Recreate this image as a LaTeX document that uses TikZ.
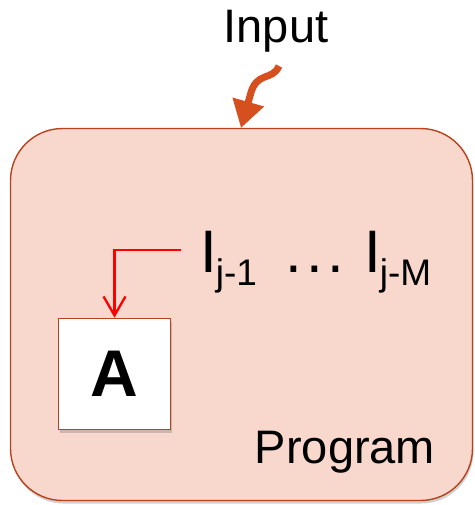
\documentclass[tikz,border=0pt]{standalone}
\usepackage{fontspec}
\setmainfont{Liberation Sans}
\usepackage{tikz}
\usepackage{xcolor}
\usetikzlibrary{arrows.meta, shadows}
\definecolor{ProgFill}{HTML}{F8D8CC}
\definecolor{ProgLine}{HTML}{B8421C}
\definecolor{InOrange}{HTML}{D64F1E}
\definecolor{LinkRed}{HTML}{FF0000}

\newcommand{\bigsz}{\fontsize{60}{63}\selectfont}
\newcommand{\subsz}{\fontsize{37}{40}\selectfont}
\newcommand{\lowsub}[1]{\hspace{-1pt}\raisebox{-13pt}{\subsz #1}}

\begin{document}
\begin{tikzpicture}[x=1pt, y=-1pt, >=Stealth,
    softshadow/.style={drop shadow={opacity=0.3, fill=black!60, shadow xshift=1pt, shadow yshift=-3pt}},
    progbox/.style={draw=ProgLine, line width=1.4pt, fill=ProgFill, rounded corners=52pt,
        minimum width=462pt, minimum height=372pt, softshadow},
    abox/.style={draw=ProgLine, line width=1.6pt, fill=white,
        minimum width=112pt, minimum height=111pt, softshadow},
    inarrow/.style={InOrange, line width=7pt, -{Triangle[length=27pt, width=31pt]}},
    linkarrow/.style={LinkRed, line width=2.3pt, -{Straight Barb[length=19pt, width=22pt]}}]
    \useasboundingbox (0,0) rectangle (474,505);

    % Program box
    \node[progbox] (prog) at (241.5,314.5) {};
    \node[anchor=base, font=\fontsize{47}{49}\selectfont] (progtxt) at (345,463) {Program};

    % Input label and curly arrow
    \node[anchor=base, font=\fontsize{47}{49}\selectfont] (input) at (276,43) {Input};
    \coordinate (intail) at (279,66);
    \coordinate (intip) at (241,128);
    \draw[inarrow] (intail) .. controls (272,82) and (256,70) .. (250,96) -- (intip);

    % Box A
    \node[abox, font=\fontsize{66}{68}\selectfont\bfseries] (A) at (114.5,374) {A};

    % Inputs I_{j-1} ... I_{j-M}
    \node[anchor=base west, inner sep=0pt, font=\bigsz] (I1) at (200,272) {I\lowsub{j-1}};
    \node[anchor=base west, inner sep=0pt, font=\bigsz] (dots) at (285,272) {.\hspace{4.4pt}.\hspace{4.4pt}.};
    \node[anchor=base west, inner sep=0pt, font=\bigsz] (I2) at (364,272) {I\lowsub{j-M}};

    % Link from the inputs down to A
    \coordinate (lstart) at (181,250);
    \draw[linkarrow] (lstart) -| (A.north);
\end{tikzpicture}
\end{document}
